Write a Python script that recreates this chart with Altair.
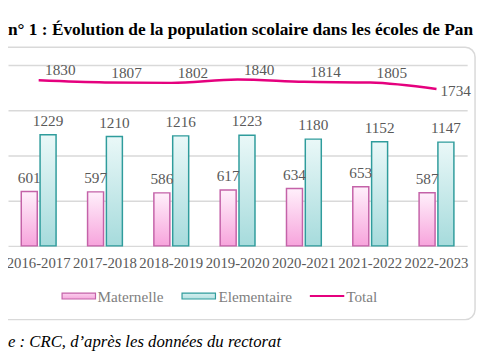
import altair as alt
import pandas as pd

years = ["2016-2017", "2017-2018", "2018-2019", "2019-2020", "2020-2021", "2021-2022", "2022-2023"]
maternelle = [601, 597, 586, 617, 634, 653, 587]
elementaire = [1229, 1210, 1216, 1223, 1180, 1152, 1147]
total = [1830, 1807, 1802, 1840, 1814, 1805, 1734]
series = ["Maternelle", "Elementaire"]

title_text = "n° 1 :  Évolution de la population scolaire dans les écoles de Pan"
source_text = "e : CRC, d\u2019après les données du rectorat"

FONT = "Liberation Serif"
GREY = "#595959"

bars_df = pd.DataFrame(
    [{"annee": y, "serie": "Maternelle", "valeur": v} for y, v in zip(years, maternelle)]
    + [{"annee": y, "serie": "Elementaire", "valeur": v} for y, v in zip(years, elementaire)]
)
total_df = pd.DataFrame({"annee": years, "valeur": total})
one = pd.DataFrame({"a": [0]})

x_enc = alt.X("annee:N", sort=years, title=None,
              scale=alt.Scale(paddingInner=0.475),
              axis=alt.Axis(labelAngle=0, ticks=False, domain=False, labelFont=FONT,
                            labelFontSize=15, labelColor=GREY, labelPadding=10,
                            labelOverlap=False, labelBound=False, labelLimit=0))
y_scale = alt.Scale(domain=[0, 2000], nice=False)
y_enc = alt.Y("valeur:Q", scale=y_scale, title=None,
              axis=alt.Axis(values=[0, 500, 1000, 1500, 2000], labels=False, ticks=False,
                            domain=False, gridColor="#d9d9d9", gridWidth=1.5))
xoff = alt.XOffset("serie:N", sort=series, scale=alt.Scale(domain=series, paddingInner=0.15, paddingOuter=0))

def grad(top, bottom):
    return alt.Gradient(gradient="linear",
                        stops=[alt.GradientStop(color=top, offset=0),
                               alt.GradientStop(color=bottom, offset=1)],
                        x1=0, x2=0, y1=0, y2=1)

mat_grad = grad("#fff0fb", "#f7a4dc")
ele_grad = grad("#eaf8f8", "#a6dbdc")
MAT_STROKE = "#c462a8"
ELE_STROKE = "#2f9c9c"
LINE = "#e5007e"

base = alt.Chart(bars_df)

mat_bars = base.transform_filter(alt.datum.serie == "Maternelle").mark_bar(
    color=mat_grad, stroke=MAT_STROKE, strokeWidth=1.5
).encode(x=x_enc, y=y_enc, xOffset=xoff)

ele_bars = base.transform_filter(alt.datum.serie == "Elementaire").mark_bar(
    color=ele_grad, stroke=ELE_STROKE, strokeWidth=1.5
).encode(x=x_enc, y=y_enc, xOffset=xoff)

bar_labels = base.mark_text(font=FONT, fontSize=15.5, color=GREY, dy=-14).encode(
    x=x_enc, y=y_enc, xOffset=xoff, text="valeur:Q")

line = alt.Chart(total_df).mark_line(color=LINE, strokeWidth=2.5, interpolate="monotone").encode(
    x=x_enc, y=y_enc)

tot_labels = alt.Chart(total_df).transform_filter(alt.datum.annee != years[-1]).mark_text(
    font=FONT, fontSize=15.5, color=GREY, dx=22, dy=-10).encode(x=x_enc, y=y_enc, text="valeur:Q")
last_label = alt.Chart(total_df).transform_filter(alt.datum.annee == years[-1]).mark_text(
    font=FONT, fontSize=15.5, color=GREY, align="left", dx=4, dy=2).encode(x=x_enc, y=y_enc, text="valeur:Q")

frame = alt.Chart(one).mark_rect(fill=None, stroke="#d9d9d9", strokeWidth=1.5, cornerRadius=10).encode(
    x=alt.value(-12), x2=alt.value(475), y=alt.value(-18), y2=alt.value(259))

title = alt.Chart(one).mark_text(font=FONT, fontSize=17.6, fontWeight="bold", color="#000000",
                                 align="left", baseline="middle").encode(
    x=alt.value(0), y=alt.value(-35), text=alt.value(title_text))

source = alt.Chart(one).mark_text(font=FONT, fontSize=17, fontStyle="italic", color="#000000",
                                  align="left", baseline="middle").encode(
    x=alt.value(0), y=alt.value(282), text=alt.value(source_text))

# legend
leg_sw_m = alt.Chart(one).mark_rect(color=grad("#fbd3ef", "#f5a8dc"), stroke=MAT_STROKE, strokeWidth=1.2).encode(
    x=alt.value(55), x2=alt.value(89), y=alt.value(232), y2=alt.value(238))
leg_sw_e = alt.Chart(one).mark_rect(color=grad("#d6f0f0", "#b5e2e2"), stroke=ELE_STROKE, strokeWidth=1.2).encode(
    x=alt.value(177), x2=alt.value(211), y=alt.value(232), y2=alt.value(238))
leg_line = alt.Chart(one).mark_rule(color=LINE, strokeWidth=2).encode(
    x=alt.value(307), x2=alt.value(342), y=alt.value(235))
leg_txt_style = dict(font=FONT, fontSize=15.5, color="#7f7f7f", align="left", baseline="middle")
leg_t1 = alt.Chart(one).mark_text(**leg_txt_style).encode(x=alt.value(91), y=alt.value(236), text=alt.value("Maternelle"))
leg_t2 = alt.Chart(one).mark_text(**leg_txt_style).encode(x=alt.value(214), y=alt.value(236), text=alt.value("Elementaire"))
leg_t3 = alt.Chart(one).mark_text(**leg_txt_style).encode(x=alt.value(344), y=alt.value(236), text=alt.value("Total"))

chart = alt.layer(
    mat_bars, ele_bars, bar_labels, line, tot_labels, last_label,
    frame, title, source, leg_sw_m, leg_sw_e, leg_line, leg_t1, leg_t2, leg_t3
).properties(
    width=467, height=184,
    autosize=alt.AutoSizeParams(type="none"),
    padding={"left": 0, "top": 55, "right": 10, "bottom": 105},
    background="white",
).configure_view(stroke=None)

chart.save("out.html", embed_options={"renderer": "svg", "actions": False})
